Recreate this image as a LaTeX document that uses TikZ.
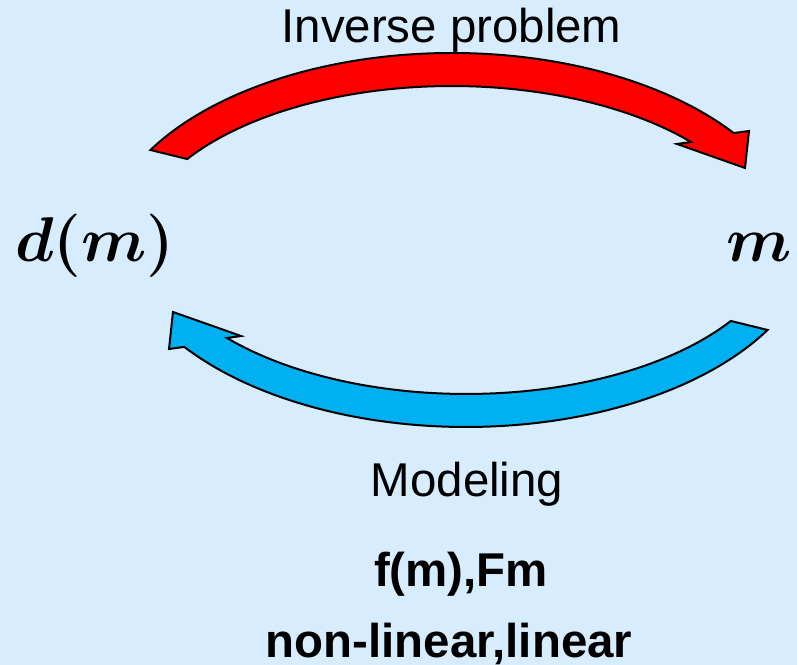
\RequirePackage{fix-cm}
\documentclass[tikz,border=0pt]{standalone}
\usepackage{bm}
\usepackage{fontspec}
\setmainfont{Liberation Sans}
\definecolor{bgblue}{RGB}{215,236,252}
\definecolor{arrowred}{RGB}{255,0,0}
\definecolor{arrowblue}{RGB}{0,176,240}
\begin{document}
\begin{tikzpicture}[
		x=0.02cm, y=0.02cm,
		every node/.style={font=\fontsize{27}{32}\selectfont, inner sep=0pt},
		bentarrow/.style={draw=black, line width=0.04cm, line join=miter},
		mathlabel/.style={font=\fontsize{36}{40}\selectfont},
		boldlabel/.style={font=\fontsize{27}{32}\selectfont\bfseries}
		]
		\fill[bgblue] (0,0) rectangle (797,665);
		\useasboundingbox (0,0) rectangle (797,665);
		% the two curved arrows (the lower one is the upper one turned round)
		\foreach \ang/\col in {0/arrowred, 180/arrowblue} {
			\draw[bentarrow, fill=\col, rotate around={\ang:(459,425)}]
				(452,415) ++(149.5:350 and 197)
				arc[start angle=149.5, end angle=36.4, x radius=350, y radius=197]
				-- (749,534) -- (745,497) -- (677,521) -- (691,523)
				arc[start angle=41.2, end angle=146.3, x radius=318, y radius=164]
				-- cycle;
		}
		% labels
		\node[anchor=base] (inverse) at (451.5,622) {Inverse problem};
		\node[mathlabel, anchor=base west] (data) at (15,403) {$\bm{d(m)}$};
		\node[mathlabel, anchor=base east] (model) at (792,403) {$\bm{m}$};
		\node[anchor=base] (modeling) at (467,168) {Modeling};
		\node[boldlabel, anchor=base] (forward) at (461,78) {f(m),Fm};
		\node[boldlabel, anchor=base] (kind) at (449,7) {non-linear,linear};
\end{tikzpicture}
\end{document}
